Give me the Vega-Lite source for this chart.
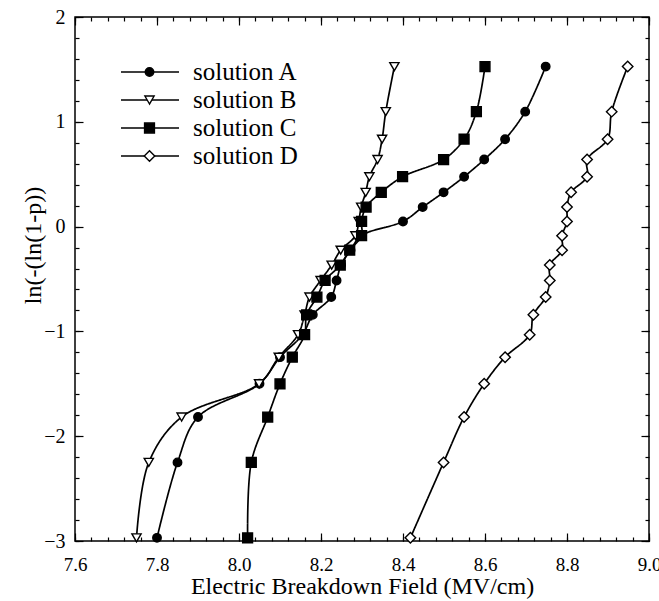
{
  "$schema": "https://vega.github.io/schema/vega-lite/v6.json",
  "autosize": "none",
  "width": 574,
  "height": 524,
  "padding": {"left": 75, "top": 17, "right": 10, "bottom": 60},
  "background": "white",
  "config": {
    "font": "Liberation Serif, Times New Roman, serif",
    "view": {"stroke": "black", "strokeWidth": 1.5},
    "axis": {"grid": false, "domain": false, "tickColor": "black", "labelColor": "black", "titleColor": "black", "labelFont": "Liberation Serif, Times New Roman, serif", "titleFont": "Liberation Serif, Times New Roman, serif", "titleFontWeight": "normal", "tickWidth": 1.2, "labelFlush": false},
    "legend": {"labelFont": "Liberation Serif, Times New Roman, serif", "padding": 0}
  },
  "data": {"values": [
    {"s": "solution A", "x": 7.80, "y": -2.970},
    {"s": "solution A", "x": 7.85, "y": -2.250},
    {"s": "solution A", "x": 7.90, "y": -1.817},
    {"s": "solution A", "x": 8.05, "y": -1.500},
    {"s": "solution A", "x": 8.10, "y": -1.246},
    {"s": "solution A", "x": 8.155, "y": -1.031},
    {"s": "solution A", "x": 8.18, "y": -0.842},
    {"s": "solution A", "x": 8.225, "y": -0.672},
    {"s": "solution A", "x": 8.238, "y": -0.514},
    {"s": "solution A", "x": 8.249, "y": -0.367},
    {"s": "solution A", "x": 8.272, "y": -0.225},
    {"s": "solution A", "x": 8.298, "y": -0.087},
    {"s": "solution A", "x": 8.40, "y": 0.049},
    {"s": "solution A", "x": 8.448, "y": 0.186},
    {"s": "solution A", "x": 8.499, "y": 0.327},
    {"s": "solution A", "x": 8.549, "y": 0.476},
    {"s": "solution A", "x": 8.598, "y": 0.640},
    {"s": "solution A", "x": 8.649, "y": 0.834},
    {"s": "solution A", "x": 8.698, "y": 1.097},
    {"s": "solution A", "x": 8.748, "y": 1.527},
    {"s": "solution B", "x": 7.75, "y": -2.970},
    {"s": "solution B", "x": 7.78, "y": -2.250},
    {"s": "solution B", "x": 7.86, "y": -1.817},
    {"s": "solution B", "x": 8.049, "y": -1.500},
    {"s": "solution B", "x": 8.097, "y": -1.246},
    {"s": "solution B", "x": 8.144, "y": -1.031},
    {"s": "solution B", "x": 8.16, "y": -0.842},
    {"s": "solution B", "x": 8.172, "y": -0.672},
    {"s": "solution B", "x": 8.199, "y": -0.514},
    {"s": "solution B", "x": 8.226, "y": -0.367},
    {"s": "solution B", "x": 8.248, "y": -0.225},
    {"s": "solution B", "x": 8.284, "y": -0.087},
    {"s": "solution B", "x": 8.292, "y": 0.049},
    {"s": "solution B", "x": 8.298, "y": 0.186},
    {"s": "solution B", "x": 8.309, "y": 0.327},
    {"s": "solution B", "x": 8.318, "y": 0.476},
    {"s": "solution B", "x": 8.338, "y": 0.640},
    {"s": "solution B", "x": 8.349, "y": 0.834},
    {"s": "solution B", "x": 8.358, "y": 1.097},
    {"s": "solution B", "x": 8.379, "y": 1.527},
    {"s": "solution C", "x": 8.021, "y": -2.970},
    {"s": "solution C", "x": 8.03, "y": -2.250},
    {"s": "solution C", "x": 8.07, "y": -1.817},
    {"s": "solution C", "x": 8.10, "y": -1.500},
    {"s": "solution C", "x": 8.13, "y": -1.246},
    {"s": "solution C", "x": 8.16, "y": -1.031},
    {"s": "solution C", "x": 8.165, "y": -0.842},
    {"s": "solution C", "x": 8.19, "y": -0.672},
    {"s": "solution C", "x": 8.21, "y": -0.514},
    {"s": "solution C", "x": 8.247, "y": -0.367},
    {"s": "solution C", "x": 8.27, "y": -0.225},
    {"s": "solution C", "x": 8.299, "y": -0.087},
    {"s": "solution C", "x": 8.299, "y": 0.049},
    {"s": "solution C", "x": 8.31, "y": 0.186},
    {"s": "solution C", "x": 8.347, "y": 0.327},
    {"s": "solution C", "x": 8.399, "y": 0.476},
    {"s": "solution C", "x": 8.499, "y": 0.640},
    {"s": "solution C", "x": 8.549, "y": 0.834},
    {"s": "solution C", "x": 8.579, "y": 1.097},
    {"s": "solution C", "x": 8.60, "y": 1.527},
    {"s": "solution D", "x": 8.418, "y": -2.970},
    {"s": "solution D", "x": 8.499, "y": -2.250},
    {"s": "solution D", "x": 8.549, "y": -1.817},
    {"s": "solution D", "x": 8.598, "y": -1.500},
    {"s": "solution D", "x": 8.649, "y": -1.246},
    {"s": "solution D", "x": 8.709, "y": -1.031},
    {"s": "solution D", "x": 8.718, "y": -0.842},
    {"s": "solution D", "x": 8.748, "y": -0.672},
    {"s": "solution D", "x": 8.758, "y": -0.514},
    {"s": "solution D", "x": 8.758, "y": -0.367},
    {"s": "solution D", "x": 8.788, "y": -0.225},
    {"s": "solution D", "x": 8.788, "y": -0.087},
    {"s": "solution D", "x": 8.80, "y": 0.049},
    {"s": "solution D", "x": 8.80, "y": 0.186},
    {"s": "solution D", "x": 8.81, "y": 0.327},
    {"s": "solution D", "x": 8.849, "y": 0.476},
    {"s": "solution D", "x": 8.849, "y": 0.640},
    {"s": "solution D", "x": 8.899, "y": 0.834},
    {"s": "solution D", "x": 8.909, "y": 1.097},
    {"s": "solution D", "x": 8.948, "y": 1.527}
  ]},
  "resolve": {"axis": {"x": "independent", "y": "independent"}},
  "layer": [
    {
      "mark": {"type": "line", "interpolate": "catmull-rom", "color": "black", "strokeWidth": 1.7},
      "encoding": {
        "x": {"field": "x", "type": "quantitative", "scale": {"domain": [7.6, 9.0], "nice": false, "zero": false},
              "axis": {"orient": "bottom", "values": [7.6, 7.8, 8.0, 8.2, 8.4, 8.6, 8.8, 9.0], "format": ".1f", "tickSize": -8, "labelPadding": 22, "labelFontSize": 19, "labelFlush": false, "labelOverlap": false, "labelFont": "Liberation Serif, Times New Roman, serif", "title": "Electric Breakdown Field (MV/cm)", "titleFont": "Liberation Serif, Times New Roman, serif", "titleFontSize": 24, "titlePadding": 0}},
        "y": {"field": "y", "type": "quantitative", "scale": {"domain": [-3, 2], "nice": false, "zero": false},
              "axis": {"orient": "left", "values": [-3, -2, -1, 0, 1, 2], "format": "d", "tickSize": -8, "labelPadding": 18, "labelFontSize": 20, "labelFlush": false, "labelFont": "Liberation Serif, Times New Roman, serif", "title": "ln(-(ln(1-p))", "titleFont": "Liberation Serif, Times New Roman, serif", "titleFontSize": 24, "titleX": -42, "titleY": 228, "titleAlign": "center", "titleBaseline": "middle", "titleAngle": -90}},
        "detail": {"field": "s", "type": "nominal"},
        "order": {"field": "y", "type": "quantitative"},
        "strokeDash": {"field": "s", "type": "nominal", "scale": {"range": [[1, 0], [1, 0], [1, 0], [1, 0]]},
                  "legend": {"title": null, "orient": "none", "legendX": 45, "legendY": 41, "padding": 0, "labelFont": "Liberation Serif, Times New Roman, serif", "labelFontSize": 25, "labelColor": "black", "symbolType": "stroke", "symbolSize": 3364, "symbolStrokeColor": "black", "symbolStrokeWidth": 1.5, "clipHeight": 28, "rowPadding": 0, "labelOffset": 13}}
      }
    },
    {
      "mark": {"type": "point", "filled": false, "stroke": "black", "strokeWidth": 1.4, "opacity": 1},
      "encoding": {
        "x": {"field": "x", "type": "quantitative", "axis": {"orient": "top", "values": [7.6, 7.8, 8.0, 8.2, 8.4, 8.6, 8.8, 9.0], "tickSize": -8, "labels": false, "title": null}},
        "y": {"field": "y", "type": "quantitative", "axis": {"orient": "right", "values": [-3, -2, -1, 0, 1, 2], "tickSize": -8, "labels": false, "title": null}},
        "shape": {"field": "s", "type": "nominal", "scale": {"range": ["circle", "triangle-down", "square", "diamond"]},
                  "legend": {"title": null, "orient": "none", "legendX": 62, "legendY": 41, "padding": 0, "labelExpr": "''", "labelFontSize": 25, "symbolStrokeWidth": 1.4, "clipHeight": 28, "rowPadding": 0, "labelOffset": 0}},
        "size": {"field": "s", "type": "nominal", "scale": {"range": [72, 110, 72, 125]}},
        "fill": {"field": "s", "type": "nominal", "scale": {"range": ["black", "white", "black", "white"]}, "legend": null}
      }
    },
    {
      "mark": {"type": "point", "opacity": 0},
      "encoding": {
        "x": {"field": "x", "type": "quantitative", "axis": {"orient": "bottom", "values": [7.6,7.64,7.68,7.72,7.76,7.8,7.84,7.88,7.92,7.96,8.0,8.04,8.08,8.12,8.16,8.2,8.24,8.28,8.32,8.36,8.4,8.44,8.48,8.52,8.56,8.6,8.64,8.68,8.72,8.76,8.8,8.84,8.88,8.92,8.96,9.0], "tickSize": -4, "labels": false, "title": null}},
        "y": {"field": "y", "type": "quantitative", "axis": {"orient": "left", "values": [-3,-2.8,-2.6,-2.4,-2.2,-2,-1.8,-1.6,-1.4,-1.2,-1,-0.8,-0.6,-0.4,-0.2,0,0.2,0.4,0.6,0.8,1,1.2,1.4,1.6,1.8,2], "tickSize": -4, "labels": false, "title": null}}
      }
    },
    {
      "mark": {"type": "point", "opacity": 0},
      "encoding": {
        "x": {"field": "x", "type": "quantitative", "axis": {"orient": "top", "values": [7.6,7.64,7.68,7.72,7.76,7.8,7.84,7.88,7.92,7.96,8.0,8.04,8.08,8.12,8.16,8.2,8.24,8.28,8.32,8.36,8.4,8.44,8.48,8.52,8.56,8.6,8.64,8.68,8.72,8.76,8.8,8.84,8.88,8.92,8.96,9.0], "tickSize": -4, "labels": false, "title": null}},
        "y": {"field": "y", "type": "quantitative", "axis": {"orient": "right", "values": [-3,-2.8,-2.6,-2.4,-2.2,-2,-1.8,-1.6,-1.4,-1.2,-1,-0.8,-0.6,-0.4,-0.2,0,0.2,0.4,0.6,0.8,1,1.2,1.4,1.6,1.8,2], "tickSize": -4, "labels": false, "title": null}}
      }
    }
  ]
}
